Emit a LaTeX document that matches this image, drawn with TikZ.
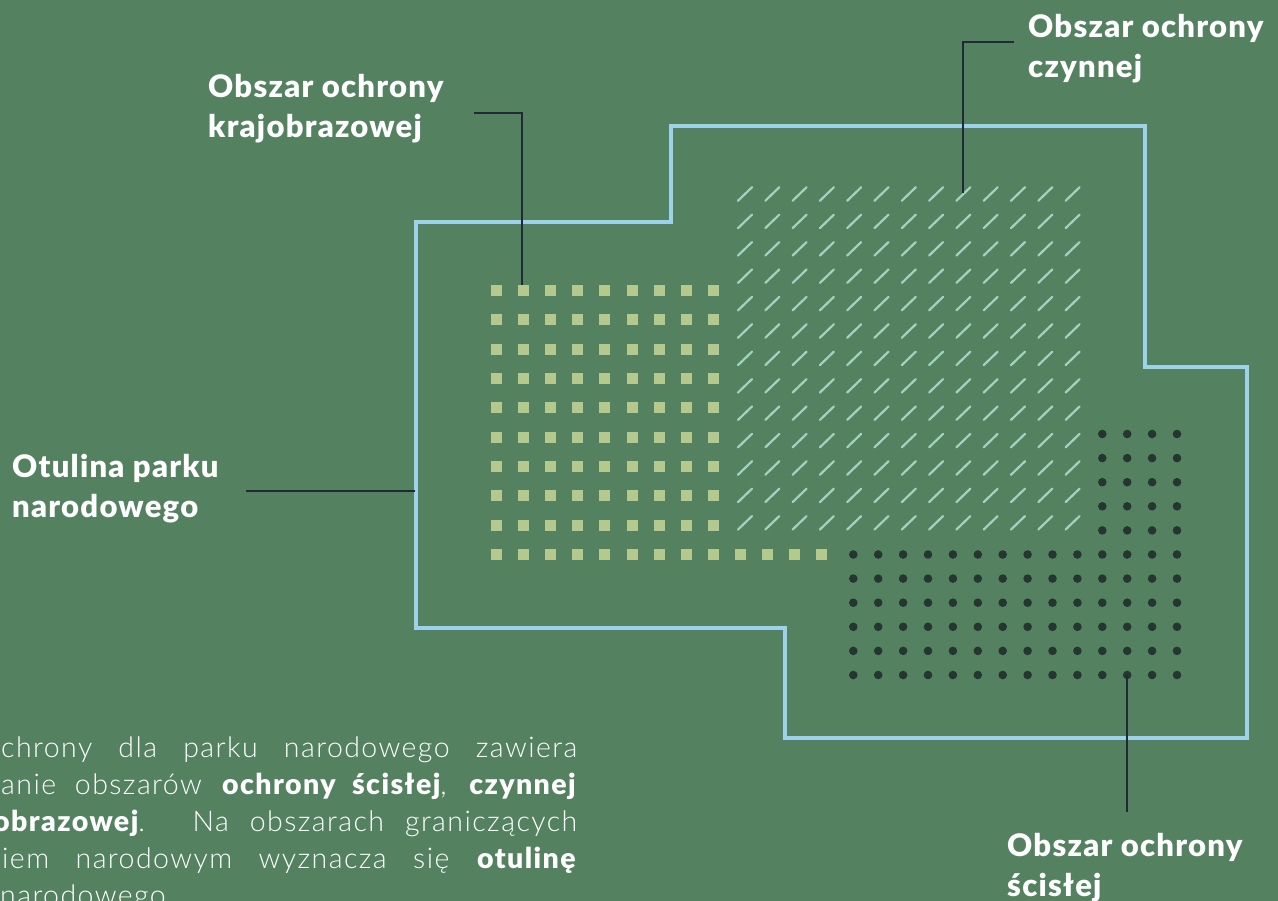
\documentclass[tikz,border=0pt]{standalone}
\usepackage{fontspec}
\setmainfont{Lato}[BoldFont={Lato Black}, LetterSpace=4]
\newfontfamily\bodyfont{Lato Light}[BoldFont={Lato Black}, LetterSpace=5]
\definecolor{bg}{RGB}{84,130,97}
\definecolor{sqc}{RGB}{181,201,142}
\definecolor{slc}{RGB}{160,212,190}
\definecolor{dotc}{RGB}{37,54,48}
\definecolor{outl}{RGB}{157,210,236}
\definecolor{lead}{RGB}{35,40,56}
\tikzset{
  outline/.style={draw=outl, line width=3.5pt, line join=miter},
  sqbox/.style={fill=sqc},
  slash/.style={draw=slc, line width=2.2pt, line cap=round},
  dotmark/.style={fill=dotc},
  leader/.style={draw=lead, line width=2.5pt},
  lbl/.style={anchor=base west, inner sep=0pt, text=white, font=\fontsize{31}{40}\selectfont\bfseries},
  body/.style={anchor=base west, inner sep=0pt, text=white, font=\bodyfont\fontsize{28.5}{37}\selectfont},
}
\begin{document}
\begin{tikzpicture}[x=1pt,y=-1pt]
\useasboundingbox (0,0) rectangle (1278,901);
\fill[bg] (0,0) rectangle (1278,901);
\clip (0,0) rectangle (1278,901);
% outline of park buffer
\draw[outline] (416,222) -- (671,222) -- (671,126) -- (1145,126) -- (1145,367)
  -- (1247,367) -- (1247,738) -- (785,738) -- (785,628) -- (416,628) -- cycle;
% squares (landscape protection)
\foreach \r in {0,...,8}
  \foreach \c in {0,...,8}
    \fill[sqbox] ({491+27.1*\c},{285+29.33*\r}) rectangle ++(11,11);
\foreach \c in {0,...,12}
  \fill[sqbox] ({491+27.1*\c},{285+29.33*9}) rectangle ++(11,11);
% slashes (active protection)
\foreach \r in {0,...,12}
  \foreach \c in {0,...,12}
    \draw[slash] ({738+27.3*\c},{200.75+27.4*\r}) -- ++(14,-13.5);
% dots (strict protection)
\foreach \r in {0,...,4}
  \foreach \c in {10,...,13}
    \fill[dotmark] ({853.3+24.9*\c},{434+24.1*\r}) circle (4.3);
\foreach \r in {5,...,10}
  \foreach \c in {0,...,13}
    \fill[dotmark] ({853.3+24.9*\c},{434+24.1*\r}) circle (4.3);
% labels
\node[lbl] (l1a) at (208,98) {Obszar ochrony};
\node[lbl] (l1b) at (208,138) {krajobrazowej};
\node[lbl] (l2a) at (1028,38) {Obszar ochrony};
\node[lbl] (l2b) at (1028,78) {czynnej};
\node[lbl] (l3a) at (12,477) {Otulina parku};
\node[lbl] (l3b) at (12,517) {narodowego};
\node[lbl] (l4a) at (1007,856) {Obszar ochrony};
\node[lbl] (l4b) at (1007,896) {ścisłej};
% leader lines
\coordinate (k0) at (474,113);
\coordinate (k1) at (522,113);
\coordinate (k2) at (522,285);
\draw[leader] (k0) -- (k1) -- (k2);
\coordinate (c0) at (1014,42);
\coordinate (c1) at (963,42);
\coordinate (c2) at (963,193);
\draw[leader] (c0) -- (c1) -- (c2);
\coordinate (o0) at (246,491);
\coordinate (o1) at (415,491);
\draw[leader] (o0) -- (o1);
\coordinate (s0) at ({853.3+24.9*11},675);
\coordinate (s1) at ({853.3+24.9*11},812);
\draw[leader] (s0) -- (s1);
% body text
\node[body] (b1) at (1,757) {\makebox[576pt][s]{chrony dla parku narodowego zawiera}};
\node[body] (b2) at (1,794) {\makebox[576pt][s]{anie obszarów \textbf{ochrony ścisłej}, \textbf{czynnej}}};
\node[body] (b3) at (-7,831) {\makebox[584pt][s]{\textbf{obrazowej}. Na obszarach graniczących}};
\node[body] (b4) at (2,868) {\makebox[575pt][s]{iem narodowym wyznacza się \textbf{otulinę}}};
\node[body] (b5) at (0,905) {narodowego};
\end{tikzpicture}
\end{document}
